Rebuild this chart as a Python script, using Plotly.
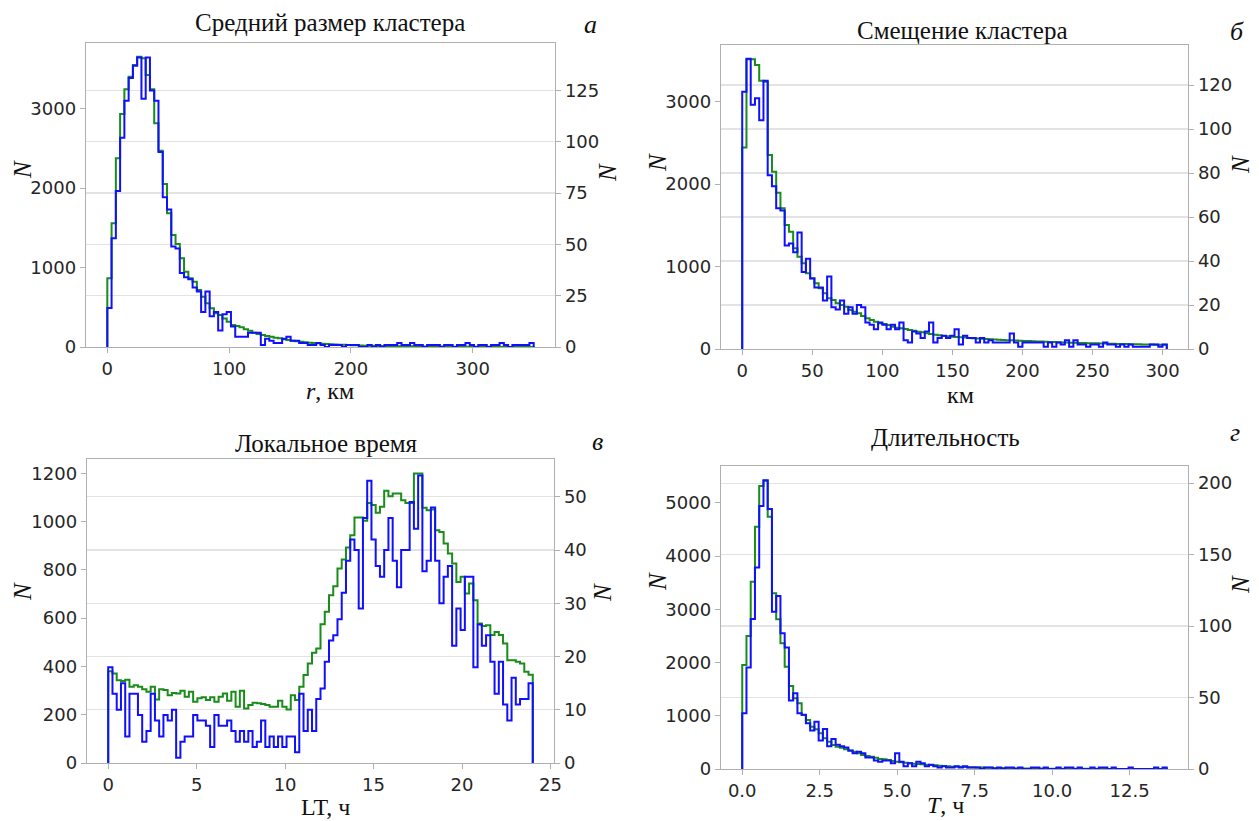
import numpy as np
import plotly.graph_objects as go

W, H = 1259, 821

# ---------------- data (histogram counts per bin) ----------------
# Panel a: mean cluster size r, km  (bins over 0..350 km)
r_range = [0, 350]
r_green = [864, 1556, 2373, 2931, 3241, 3400, 3547, 3652, 3631, 3421,
           3241, 2813, 2470, 2050, 1681, 1409, 1296, 1115, 948, 864,
           822, 717, 633, 549, 486, 423, 403, 360, 319, 277,
           264, 247, 222, 205, 180, 164, 151, 138, 130, 117,
           109, 96, 88, 80, 71, 67, 59, 55, 50, 46,
           42, 38, 35, 32, 29, 27, 25, 23, 21, 19,
           17, 16, 15, 14, 13, 12, 11, 10, 9, 9,
           8, 8, 7, 7, 6, 6, 5, 5, 5, 4,
           4, 4, 3, 3, 3, 3, 2, 2, 2, 2,
           2, 1, 1, 1, 1, 1, 1, 1, 1, 1]
r_blue = [19, 53, 76, 102, 120, 131, 137, 141, 121, 141,
          125, 120, 95, 73, 67, 49, 48, 36, 34, 33,
          29, 27, 17, 27, 15, 17, 8, 16, 17, 10,
          5, 5, 5, 7, 7, 7, 1, 4, 3, 2,
          2, 4, 5, 3, 3, 2, 2, 1, 1, 2,
          1, 0, 1, 1, 1, 0, 1, 1, 1, 0,
          0, 1, 0, 1, 0, 1, 1, 1, 2, 1,
          1, 2, 1, 1, 0, 1, 1, 1, 0, 1,
          1, 0, 1, 1, 2, 1, 0, 1, 1, 0,
          1, 1, 2, 1, 0, 1, 1, 1, 1, 2]

# Panel b: cluster displacement, km (bins over 0..303 km)
d_range = [0, 303]
d_green = [2444, 3511, 3511, 3442, 3253, 3240, 2352, 2149, 1895, 1705,
           1503, 1422, 1220, 1119, 1038, 917, 857, 796, 735, 675,
           614, 594, 554, 533, 513, 473, 453, 432, 400, 372,
           352, 331, 311, 303, 291, 271, 259, 251, 242, 230,
           222, 210, 202, 190, 182, 174, 166, 158, 154, 150,
           145, 142, 138, 134, 130, 127, 124, 121, 118, 115,
           112, 110, 107, 105, 102, 100, 98, 96, 94, 92,
           90, 88, 86, 84, 82, 80, 79, 77, 76, 74,
           73, 71, 70, 69, 67, 66, 65, 64, 62, 61,
           60, 59, 58, 57, 56, 55, 54, 53, 52, 51]
d_blue = [117, 132, 111, 114, 104, 122, 79, 74, 64, 63,
          47, 48, 44, 53, 35, 41, 32, 28, 28, 22,
          33, 19, 18, 22, 16, 19, 16, 20, 19, 12,
          11, 9, 12, 11, 9, 11, 9, 12, 4, 3,
          8, 7, 5, 8, 12, 3, 5, 6, 5, 6,
          9, 2, 6, 5, 5, 3, 5, 3, 4, 3,
          3, 3, 3, 7, 3, 1, 3, 3, 3, 3,
          3, 1, 3, 1, 3, 2, 4, 1, 4, 2,
          2, 1, 2, 2, 1, 3, 2, 2, 1, 2,
          1, 2, 1, 1, 1, 1, 2, 2, 1, 2]

# Panel c: local time LT, h (bins over 0..24 h)
lt_range = [0, 24]
lt_green = [380, 371, 343, 340, 345, 316, 322, 316, 305, 295,
            316, 263, 305, 302, 281, 290, 288, 299, 274, 295,
            254, 268, 272, 261, 272, 254, 274, 288, 258, 295,
            233, 299, 226, 240, 250, 247, 244, 240, 233, 233,
            258, 233, 222, 281, 261, 316, 364, 412, 457, 474,
            575, 626, 695, 732, 806, 843, 892, 943, 1017, 1017,
            1003, 1077, 1068, 1036, 1061, 1127, 1105, 1116, 1116, 1088,
            1077, 1077, 1199, 1199, 1057, 1047, 1050, 964, 957, 909,
            868, 826, 750, 771, 702, 743, 674, 578, 567, 571,
            530, 543, 530, 495, 426, 426, 419, 412, 378, 365]
lt_blue = [18, 13, 10, 15, 5, 13, 13, 9, 4, 6,
           13, 8, 5, 9, 8, 10, 1, 4, 5, 5,
           9, 8, 8, 7, 3, 9, 7, 7, 8, 6,
           4, 6, 4, 6, 3, 4, 8, 3, 5, 3,
           5, 3, 5, 5, 2, 13, 6, 10, 6, 12,
           14, 19, 23, 24, 27, 32, 38, 42, 40, 29,
           46, 53, 42, 37, 35, 40, 46, 38, 33, 40,
           40, 49, 44, 54, 36, 38, 48, 38, 30, 35,
           37, 22, 29, 25, 35, 35, 18, 26, 22, 24,
           19, 13, 19, 11, 8, 16, 11, 12, 12, 15]

# Panel d: duration T, h (bins over 0..13.7 h)
t_range = [0, 13.7]
t_green = [1955, 2500, 3521, 4555, 5320, 5420, 4743, 3302, 2813, 2362,
           1924, 1560, 1328, 1234, 1015, 921, 796, 746, 670, 576,
           514, 451, 420, 401, 370, 345, 326, 294, 263, 244,
           232, 213, 188, 182, 169, 150, 138, 125, 119, 107,
           100, 94, 88, 82, 75, 69, 63, 56, 50, 44,
           44, 40, 37, 34, 31, 29, 26, 24, 22, 20,
           18, 17, 15, 14, 13, 12, 11, 10, 9, 8,
           8, 7, 7, 6, 6, 5, 5, 5, 4, 4,
           4, 3, 3, 3, 3, 2, 2, 2, 2, 2,
           2, 1, 1, 1, 1, 1, 1, 1, 1, 1]
t_blue = [39, 71, 105, 141, 184, 202, 182, 110, 121, 95,
          85, 48, 53, 39, 38, 32, 27, 33, 20, 28,
          16, 21, 17, 16, 15, 13, 11, 12, 11, 8,
          8, 6, 5, 6, 6, 4, 11, 5, 2, 4,
          2, 5, 4, 2, 3, 2, 1, 2, 1, 1,
          2, 1, 2, 1, 1, 1, 0, 1, 1, 0,
          1, 0, 1, 1, 0, 1, 0, 0, 1, 1,
          0, 1, 0, 0, 1, 0, 1, 1, 0, 1,
          0, 0, 1, 0, 1, 1, 0, 1, 0, 0,
          0, 1, 0, 0, 0, 0, 0, 1, 0, 1]

titles = ["Средний размер кластера", "Смещение кластера", "Локальное время", "Длительность"]
letters = ["а", "б", "в", "г"]
xlabels = ["<i>r</i>, км", "км", "LT, ч", "<i>T</i>, ч"]

# ---------------- layout geometry (window pixels) ----------------
panels = [
    dict(box=(86, 43, 555, 347), xr=[-17.5, 367.5], xd=100, yl=[0, 3824], yld=1000, yr=[0, 148.1], yrd=25,
         data=(r_range, r_green, r_blue), fmt=None),
    dict(box=(721, 45, 1188, 349), xr=[-15.15, 318.15], xd=50, yl=[0, 3685], yld=1000, yr=[0, 138.2], yrd=20,
         data=(d_range, d_green, d_blue), fmt=None),
    dict(box=(87, 459, 554, 763), xr=[-1.2, 25.2], xd=5, yl=[0, 1259], yld=200, yr=[0, 57.1], yrd=10,
         data=(lt_range, lt_green, lt_blue), fmt=None),
    dict(box=(721, 466, 1188, 769), xr=[-0.685, 14.385], xd=2.5, yl=[0, 5695], yld=1000, yr=[0, 212], yrd=50,
         data=(t_range, t_green, t_blue), fmt=".1f"),
]

title_pos = [(330, 22), (962, 30), (326, 443), (945, 437)]
letter_pos = [(590, 25), (1237, 32), (597, 442), (1235, 432)]
xlabel_pos = [(330, 391), (960, 395), (325, 807), (945, 805)]
nleft_pos = [(22, 170), (657, 163), (22, 592), (657, 582)]
nright_pos = [(607, 173), (1240, 165), (602, 593), (1240, 585)]

GREEN = "#1a8c1a"
BLUE = "#1010ff"
FRAME = "#b0b0b0"
GRID = "#e3e3e3"
TICKF = dict(family="DejaVu Sans", size=18, color="#262626")
SERIF = "Liberation Serif"


def steps(rng, vals):
    edges = np.linspace(rng[0], rng[1], len(vals) + 1)
    x = [edges[0]] + list(edges)
    y = [0] + list(vals) + [0]
    return x, y


def pfx(x):
    return x / W


def pfy(y):
    return 1 - y / H


fig = go.Figure()
layout = dict(width=W, height=H, margin=dict(l=0, r=0, t=0, b=0, autoexpand=False),
              paper_bgcolor="white", plot_bgcolor="white", showlegend=False)
annotations = []


def ann(text, pos, size, angle=0):
    return dict(text=text, x=pfx(pos[0]), y=pfy(pos[1]), xref="paper", yref="paper",
                xanchor="center", yanchor="middle", showarrow=False, textangle=angle,
                font=dict(family=SERIF, size=size, color="#111"))


for i, p in enumerate(panels):
    n = i + 1
    xa = "x" if n == 1 else f"x{n}"
    yl_id = 2 * i + 1
    yr_id = 2 * i + 2
    yla = "y" if yl_id == 1 else f"y{yl_id}"
    yra = f"y{yr_id}"
    x0, y0, x1, y1 = p["box"]
    rng, g, b = p["data"]
    gx, gy = steps(rng, g)
    bx, by = steps(rng, b)
    fig.add_trace(go.Scatter(x=gx, y=gy, mode="lines", line=dict(color=GREEN, width=2, shape="hv"),
                             xaxis=xa, yaxis=yla, hoverinfo="skip"))
    fig.add_trace(go.Scatter(x=bx, y=by, mode="lines", line=dict(color=BLUE, width=2, shape="hv"),
                             xaxis=xa, yaxis=yra, hoverinfo="skip"))
    xkey = "xaxis" if n == 1 else f"xaxis{n}"
    ylkey = "yaxis" if yl_id == 1 else f"yaxis{yl_id}"
    yrkey = f"yaxis{yr_id}"
    common = dict(zeroline=False, showline=True, linecolor=FRAME, linewidth=1.3, ticks="outside",
                  ticklen=5, tickcolor=FRAME, tickfont=TICKF, automargin=False, tick0=0)
    layout[xkey] = dict(domain=[pfx(x0), pfx(x1)], anchor=yla, range=p["xr"], dtick=p["xd"],
                        showgrid=False, mirror=True, **common)
    if p["fmt"]:
        layout[xkey]["tickformat"] = p["fmt"]
    layout[ylkey] = dict(domain=[pfy(y1), pfy(y0)], anchor=xa, range=p["yl"], dtick=p["yld"],
                         showgrid=False, **common)
    layout[yrkey] = dict(overlaying=yla, side="right", anchor=xa, range=p["yr"], dtick=p["yrd"],
                         showgrid=True, gridcolor=GRID, gridwidth=1.2, **common)

    annotations.append(ann(titles[i], title_pos[i], 25))
    annotations.append(ann(f"<i>{letters[i]}</i>", letter_pos[i], 26))
    annotations.append(ann(xlabels[i], xlabel_pos[i], 24))
    annotations.append(ann("<i>N</i>", nleft_pos[i], 25, -90))
    annotations.append(ann("<i>N</i>", nright_pos[i], 25, -90))

layout["annotations"] = annotations
fig.update_layout(**layout)
# remove the browser's default 8px body margin so the figure fills the window exactly
fig.write_html("out.html",
               config={"displayModeBar": False, "staticPlot": True},
               post_script="document.body.style.margin='0';document.body.style.overflow='hidden';")
